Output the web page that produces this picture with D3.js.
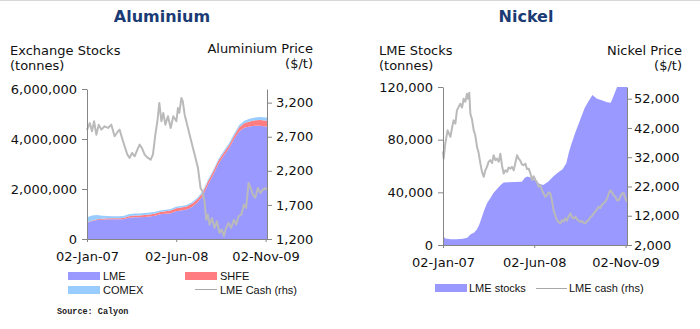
<!DOCTYPE html>
<html><head><meta charset="utf-8">
<script src="https://cdn.jsdelivr.net/npm/d3@7"></script>
<style>body{margin:0;background:#fff}svg{display:block}</style>
</head><body><svg id="c" width="700" height="329"></svg>
<script>
// ---------- Aluminium data ----------
const alStockDates = ["2007-01-02","2007-02-01","2007-03-01","2007-04-01","2007-05-01","2007-06-01","2007-07-01","2007-08-01","2007-09-01","2007-10-01","2007-11-01","2007-12-01",
"2008-01-01","2008-02-01","2008-03-01","2008-04-01","2008-05-01","2008-06-01","2008-07-01","2008-08-01","2008-09-01","2008-10-01","2008-11-01","2008-12-01",
"2009-01-01","2009-02-01","2009-03-01","2009-04-01","2009-05-01","2009-06-01","2009-07-01","2009-08-01","2009-09-01","2009-10-01","2009-11-01","2009-11-10"];
const alLME = [653000,720000,760000,775000,787000,787000,787000,790000,850000,867000,870000,880000,
900000,930000,990000,1010000,1030000,1110000,1140000,1180000,1280000,1450000,1700000,2150000,
2550000,3000000,3300000,3600000,3970000,4300000,4450000,4500000,4530000,4530000,4500000,4500000];
const alSHFE = [10000,20000,30000,40000,40000,40000,40000,50000,60000,70000,75000,80000,
85000,90000,90000,100000,110000,120000,120000,125000,130000,130000,130000,130000,
130000,130000,125000,125000,130000,160000,180000,200000,220000,230000,240000,240000];
const alCOMEX = [210000,200000,170000,120000,90000,80000,80000,80000,80000,80000,80000,80000,
75000,70000,65000,60000,60000,60000,60000,60000,60000,60000,60000,60000,
60000,65000,70000,75000,80000,90000,100000,110000,115000,120000,120000,120000];

const alPriceDates = ["2007-01-02","2007-01-18","2007-01-31","2007-02-12","2007-02-25","2007-03-11","2007-03-26","2007-04-14","2007-05-04","2007-05-23","2007-06-11","2007-07-01","2007-07-10","2007-07-24","2007-08-08","2007-08-24","2007-09-06","2007-09-20","2007-10-05","2007-10-21","2007-11-03","2007-11-16","2007-12-02","2007-12-21",
"2008-01-06","2008-01-19","2008-02-02","2008-02-14","2008-02-25","2008-03-08","2008-03-19","2008-03-31","2008-04-15","2008-05-01","2008-05-16","2008-06-03","2008-06-12","2008-06-20","2008-07-02","2008-07-10","2008-07-21","2008-08-09","2008-08-28","2008-09-17","2008-10-06","2008-10-21","2008-11-01","2008-11-13","2008-11-23","2008-12-02","2008-12-12","2008-12-26",
"2009-01-10","2009-01-24","2009-02-08","2009-02-21","2009-03-05","2009-03-18","2009-04-01","2009-04-16","2009-05-02","2009-05-15","2009-05-29","2009-06-14","2009-06-29","2009-07-12","2009-07-26","2009-08-07","2009-08-20","2009-09-03","2009-09-18","2009-10-03","2009-10-17","2009-10-30","2009-11-10"];
const alPrice = [2800,2900,2780,2927,2730,2877,2804,2853,2829,2877,2707,2780,2804,2682,2560,2437,2389,2462,2413,2510,2584,2535,2437,2389,
2364,2437,2730,2927,3196,2927,3049,2877,3000,2829,3000,2927,3122,3050,3269,3220,3024,2829,2633,2437,2242,1948,1900,1753,1483,1557,1410,1507,
1361,1459,1288,1337,1240,1361,1435,1361,1483,1410,1533,1557,1704,1655,2022,1948,1850,1802,1948,1875,1924,1948,1924];

// ---------- Nickel data ----------
const niStockDates = ["2007-01-02","2007-01-15","2007-02-15","2007-03-20","2007-04-25","2007-05-20","2007-06-06","2007-06-28","2007-07-14","2007-07-28","2007-08-10","2007-08-25","2007-09-10","2007-09-27","2007-10-15","2007-11-04","2007-11-25","2007-12-12",
"2008-03-24","2008-04-10","2008-04-25","2008-05-15","2008-06-01","2008-06-20","2008-07-23","2008-08-20","2008-09-18","2008-10-15","2008-11-10","2008-12-01","2008-12-15","2008-12-28",
"2009-01-20","2009-02-17","2009-03-15","2009-04-05","2009-04-28","2009-05-24","2009-06-20","2009-07-20","2009-08-10","2009-08-28","2009-09-15","2009-11-10"];
const niStocks = [7000,5000,4300,4300,4800,5500,8000,9500,12000,16000,21000,27000,32000,35500,39500,42500,45500,47500,
48000,51000,52000,51000,49500,47000,45500,48000,52000,55000,57500,62000,70000,76000,
85000,95000,104000,109000,114000,111000,110000,108500,108000,114000,120000,120000];

const niPriceDates = ["2007-01-02","2007-01-06","2007-01-15","2007-01-28","2007-02-13","2007-02-22","2007-03-03","2007-03-13","2007-03-22","2007-04-10","2007-04-20","2007-04-29","2007-05-09","2007-05-18","2007-05-24","2007-05-31","2007-06-06","2007-06-15","2007-06-25","2007-07-04","2007-07-14","2007-07-23","2007-08-02","2007-08-11","2007-08-21","2007-08-30","2007-09-08","2007-09-18","2007-09-27","2007-10-07","2007-10-16","2007-10-26","2007-11-04","2007-11-14","2007-11-23","2007-12-03","2007-12-12","2007-12-21","2007-12-31",
"2008-01-09","2008-01-19","2008-01-28","2008-02-07","2008-02-16","2008-02-26","2008-03-06","2008-03-15","2008-03-25","2008-04-03","2008-04-13","2008-04-22","2008-05-02","2008-05-11","2008-05-21","2008-05-30","2008-06-09","2008-06-18","2008-06-27","2008-07-07","2008-07-16","2008-07-26","2008-08-04","2008-08-14","2008-08-23","2008-09-02","2008-09-11","2008-09-20","2008-09-30","2008-10-09","2008-10-19","2008-10-28","2008-11-07","2008-11-16","2008-11-25","2008-12-05","2008-12-14","2008-12-24",
"2009-01-02","2009-01-12","2009-01-21","2009-01-31","2009-02-09","2009-02-18","2009-02-28","2009-03-10","2009-03-19","2009-03-28","2009-04-07","2009-04-16","2009-04-26","2009-05-05","2009-05-15","2009-05-24","2009-06-02","2009-06-12","2009-06-21","2009-07-01","2009-07-10","2009-07-20","2009-07-29","2009-08-08","2009-08-17","2009-08-26","2009-09-05","2009-09-14","2009-09-24","2009-10-03","2009-10-13","2009-10-22","2009-10-31","2009-11-10"];
const niPrice = [34000,31500,36700,41200,39000,42000,44600,43500,48000,50300,49000,52000,51000,53700,52000,54000,46900,45000,41200,39500,35500,33500,29800,27000,25300,27500,28700,30500,31000,30000,32700,31000,31500,30500,33200,29000,26400,27500,27000,
28500,28100,28700,27500,30000,32700,31500,30800,29500,29300,29800,28000,28100,26500,24200,25500,24200,23500,21900,22500,20700,19500,18500,19000,20000,19600,17000,13900,12000,10500,9800,9400,10500,10000,11100,10300,11800,12800,
11500,11100,11700,10700,10300,9900,10200,9500,9400,10200,10500,11500,11900,12800,13500,14200,15100,14600,15800,16200,16800,17900,19500,20700,20000,19000,18500,17300,17300,18500,19600,19800,18000,16800];

const xTickDates = ["2007-01-02","2008-06-02","2009-11-02"];
const alStockTicks = [0,2000000,4000000,6000000];
const alPriceTicks = [1200,1700,2200,2700,3200];
const niStockTicks = [0,40000,80000,120000];
const niPriceTicks = [2000,12000,22000,32000,42000,52000];

// ---------- drawing ----------
const parse = d3.timeParse("%Y-%m-%d");
const svg = d3.select("#c");
const FONT = "DejaVu Sans, Verdana, sans-serif";
const LEG = "Liberation Sans, Arial, sans-serif";
const AXC = "#858585";
const C_LME = "#9999ff", C_SHFE = "#ff7c80", C_COMEX = "#99ccff", C_CASH = "#bababa";
const t0 = parse("2007-01-02"), t1 = parse("2009-11-10");
const fmt = d3.format(",");
const dfmt = d3.timeFormat("%d-%b-%y");

svg.append("line").attr("x1",0).attr("x2",700).attr("y1",0.5).attr("y2",0.5).attr("stroke","#d8d8d8");

function styleAxis(g){
  g.attr("font-family",FONT).attr("font-size",13);
  g.selectAll(".domain").attr("stroke",AXC);
  g.selectAll(".tick line").attr("stroke",AXC);
  g.selectAll("text").attr("fill","#111");
}
function text(x,y,s,opt={}){
  return svg.append("text").attr("x",x).attr("y",y).text(s)
    .attr("font-family",opt.f||FONT).attr("font-size",opt.s||13)
    .attr("font-weight",opt.w||"normal").attr("fill",opt.c||"#111")
    .attr("text-anchor",opt.a||"start");
}

// ===== Aluminium =====
{
  const x = d3.scaleTime().domain([t0,t1]).range([87,267]);
  const y = d3.scaleLinear().domain([0,6000000]).range([239,89]);
  const yp = d3.scaleLinear().domain([1200,3400]).range([239,89]);
  const rows = alStockDates.map((d,i)=>({date:parse(d),lme:alLME[i],shfe:alSHFE[i],comex:alCOMEX[i]}));
  const series = d3.stack().keys(["lme","shfe","comex"])(rows);
  const cols = {lme:C_LME,shfe:C_SHFE,comex:C_COMEX};
  const area = d3.area().x(d=>x(d.data.date)).y0(d=>y(d[0])).y1(d=>y(d[1]));
  svg.append("g").selectAll("path").data(series).join("path")
    .attr("d",area).attr("fill",s=>cols[s.key]);
  const pts = alPriceDates.map((d,i)=>({date:parse(d),v:alPrice[i]}));
  svg.append("path").datum(pts).attr("fill","none").attr("stroke",C_CASH).attr("stroke-width",2)
    .attr("stroke-linejoin","round")
    .attr("d",d3.line().x(d=>x(d.date)).y(d=>yp(d.v)));

  svg.append("g").attr("transform","translate(87,0)")
    .call(d3.axisLeft(y).tickValues(alStockTicks).tickFormat(fmt).tickSizeInner(5).tickSizeOuter(0).tickPadding(5)).call(styleAxis);
  svg.append("g").attr("transform","translate(267,0)")
    .call(d3.axisRight(yp).tickValues(alPriceTicks).tickFormat(fmt).tickSizeInner(5).tickSizeOuter(0).tickPadding(4)).call(styleAxis);
  svg.append("g").attr("transform","translate(0,239)")
    .call(d3.axisBottom(x).tickValues(xTickDates.map(parse)).tickFormat(dfmt).tickSizeInner(3).tickSizeOuter(0).tickPadding(10)).call(styleAxis);

  text(162,22,"Aluminium",{a:"middle",w:"bold",s:16,c:"#1b3b74"});
  text(10,55,"Exchange Stocks");
  text(10,70,"(tonnes)");
  text(313,53,"Aluminium Price",{a:"end"});
  text(313,68,"($/t)",{a:"end"});

  // legend
  svg.append("rect").attr("x",68).attr("y",272).attr("width",32).attr("height",8).attr("fill",C_LME);
  text(103,280,"LME",{f:LEG,s:11});
  svg.append("rect").attr("x",185).attr("y",272).attr("width",32).attr("height",8).attr("fill",C_SHFE);
  text(220,280,"SHFE",{f:LEG,s:11});
  svg.append("rect").attr("x",68).attr("y",286).attr("width",32).attr("height",8).attr("fill",C_COMEX);
  text(103,294,"COMEX",{f:LEG,s:11});
  svg.append("line").attr("x1",195).attr("x2",217).attr("y1",289.5).attr("y2",289.5).attr("stroke","#a8a8a8").attr("stroke-width",1);
  text(220,294,"LME Cash (rhs)",{f:LEG,s:11});
  text(57,313.5,"Source: Calyon",{f:"Liberation Mono, Courier New, monospace",s:8.5,w:"bold",c:"#222"});
}

// ===== Nickel =====
{
  const x = d3.scaleTime().domain([t0,t1]).range([443,627]);
  const y = d3.scaleLinear().domain([0,120000]).range([245,87]);
  const yp = d3.scaleLinear().domain([2000,56000]).range([245,87]);
  const rows = niStockDates.map((d,i)=>({date:parse(d),v:niStocks[i]}));
  svg.append("path").datum(rows).attr("fill",C_LME)
    .attr("d",d3.area().x(d=>x(d.date)).y0(y(0)).y1(d=>y(d.v)));
  const pts = niPriceDates.map((d,i)=>({date:parse(d),v:niPrice[i]}));
  svg.append("path").datum(pts).attr("fill","none").attr("stroke",C_CASH).attr("stroke-width",2)
    .attr("stroke-linejoin","round")
    .attr("d",d3.line().x(d=>x(d.date)).y(d=>yp(d.v)));

  svg.append("g").attr("transform","translate(443,0)")
    .call(d3.axisLeft(y).tickValues(niStockTicks).tickFormat(fmt).tickSizeInner(5).tickSizeOuter(0).tickPadding(5)).call(styleAxis);
  svg.append("g").attr("transform","translate(627,0)")
    .call(d3.axisRight(yp).tickValues(niPriceTicks).tickFormat(fmt).tickSizeInner(5).tickSizeOuter(0).tickPadding(2)).call(styleAxis);
  svg.append("g").attr("transform","translate(0,245)")
    .call(d3.axisBottom(x).tickValues(xTickDates.map(parse)).tickFormat(dfmt).tickSizeInner(3).tickSizeOuter(0).tickPadding(10)).call(styleAxis);

  text(526,22,"Nickel",{a:"middle",w:"bold",s:16,c:"#1b3b74"});
  text(379,55,"LME Stocks");
  text(379,70,"(tonnes)");
  text(682,55,"Nickel Price",{a:"end"});
  text(682,70,"($/t)",{a:"end"});

  svg.append("rect").attr("x",435).attr("y",284).attr("width",32).attr("height",8).attr("fill",C_LME);
  text(469,291.5,"LME stocks",{f:LEG,s:11});
  svg.append("line").attr("x1",536).attr("x2",567).attr("y1",288.5).attr("y2",288.5).attr("stroke","#a8a8a8").attr("stroke-width",1);
  text(569,291.5,"LME cash (rhs)",{f:LEG,s:11});
}
</script></body></html>
